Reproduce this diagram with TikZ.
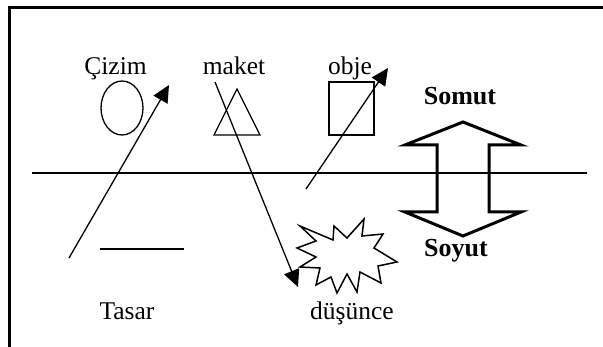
\documentclass[tikz,border=0pt]{standalone}
\usepackage{fontspec}
\setmainfont{Liberation Serif}
\usetikzlibrary{arrows.meta}
\begin{document}
\begin{tikzpicture}[x=1pt,y=-1pt,
  lbl/.style={font=\fontsize{25.5}{28}\selectfont, anchor=base, inner sep=0pt},
  blbl/.style={font=\fontsize{26}{28}\selectfont\bfseries, anchor=base, inner sep=0pt},
  thinline/.style={line width=1.3pt},
  arr/.style={line width=1.3pt, -{Triangle[length=17pt,width=16pt]}},
  frameline/.style={line width=3pt},
  bigarrow/.style={line width=3pt, line join=miter, miter limit=10},
  starline/.style={line width=1.5pt, line join=miter, miter limit=10}]
\useasboundingbox (0,0) rectangle (603,347);
% frame
\draw[frameline] (9,347) -- (9,8) -- (603,8);
% horizontal divider
\coordinate (hl) at (32,173);
\coordinate (hr) at (587,173);
\draw[thinline] (hl) -- (hr);
% labels
\node[lbl] (cizim) at (115.5,75) {Çizim};
\node[lbl] (maket) at (234,75) {maket};
\node[lbl] (obje) at (350,75) {obje};
\node[blbl] (somut) at (460,105) {Somut};
\node[blbl] (soyut) at (456,257) {Soyut};
\node[lbl] (tasar) at (127,320) {Tasar};
\node[lbl] (dusunce) at (352,320) {düşünce};
% shapes
\draw[thinline] (122,108) ellipse [x radius=21, y radius=27];
\draw[thinline, line join=miter] (237,89) -- (260,135) -- (214,135) -- cycle;
\draw[thinline] (329,82) rectangle (374,135);
\draw[thinline] (100,249) -- (184,249);
% star
\draw[starline] (300,226) -- (333,240) -- (334,226) -- (347,238) -- (364,219)
  -- (362,236) -- (383,234) -- (374,248) -- (397,262) -- (378,266)
  -- (381,283) -- (360,272) -- (357,292) -- (347,274) -- (337,293)
  -- (331,277) -- (316,285) -- (320,268) -- (300,267) -- (316,257)
  -- (297,248) -- (316,241) -- cycle;
% connectors
\coordinate (a1s) at (69,258);
\coordinate (a1e) at (169,85);
\coordinate (a2s) at (215,82);
\coordinate (a2e) at (298,287);
\coordinate (a3s) at (306,189);
\coordinate (a3e) at (388,68);
\draw[arr] (a1s) -- (a1e);
\draw[arr] (a2s) -- (a2e);
\draw[arr] (a3s) -- (a3e);
% double arrow Somut <-> Soyut
\draw[bigarrow] (463,122) -- (521,145) -- (489,145) -- (489,212) -- (521,212)
  -- (463,236) -- (405,212) -- (437,212) -- (437,145) -- (405,145) -- cycle;
\end{tikzpicture}
\end{document}
